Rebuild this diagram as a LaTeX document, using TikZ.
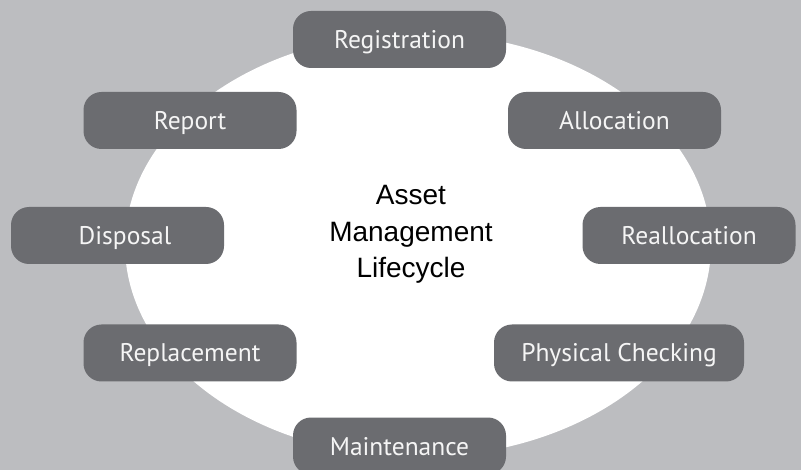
\documentclass[tikz,border=0pt]{standalone}
\usepackage{fontspec}
\newfontfamily\boxfont{PT Sans}
\newfontfamily\centerfont{Liberation Sans}
\definecolor{bggray}{RGB}{188,189,192}
\definecolor{boxgray}{RGB}{107,108,112}
\definecolor{boxtext}{RGB}{245,245,245}
\begin{document}
\begin{tikzpicture}[x=1pt,y=-1pt,
  stagebox/.style={draw=none, fill=boxgray, rounded corners=18pt, minimum height=57pt,
    minimum width=213pt, text height=18pt, text depth=0pt, inner sep=0pt,
    text=boxtext, font=\boxfont\fontsize{25.5}{30}\selectfont},
  centertext/.style={anchor=base, inner sep=0pt, text=black, font=\centerfont\fontsize{28}{34}\selectfont}]
\useasboundingbox (0,0) rectangle (801,470);
\fill[bggray] (0,0) rectangle (801,470);
\fill[white] (418,245) ellipse [x radius=293, y radius=212];
\node[stagebox] (registration) at (399.5,39.5) {Registration};
\node[stagebox] (report) at (190,120.5) {Report};
\node[stagebox] (allocation) at (614.5,120.5) {Allocation};
\node[stagebox] (disposal) at (117.5,235.5) {\hspace*{15pt}Disposal};
\node[stagebox] (reallocation) at (689,235.5) {Reallocation};
\node[stagebox] (replacement) at (190,353) {Replacement};
\node[stagebox, minimum width=250pt] (checking) at (619,353) {Physical Checking};
\node[stagebox] (maintenance) at (399.5,446) {Maintenance};
\node[centertext] (asset) at (411,205) {Asset};
\node[centertext] (management) at (411,241.5) {Management};
\node[centertext] (lifecycle) at (411,278) {Lifecycle};
\end{tikzpicture}
\end{document}
